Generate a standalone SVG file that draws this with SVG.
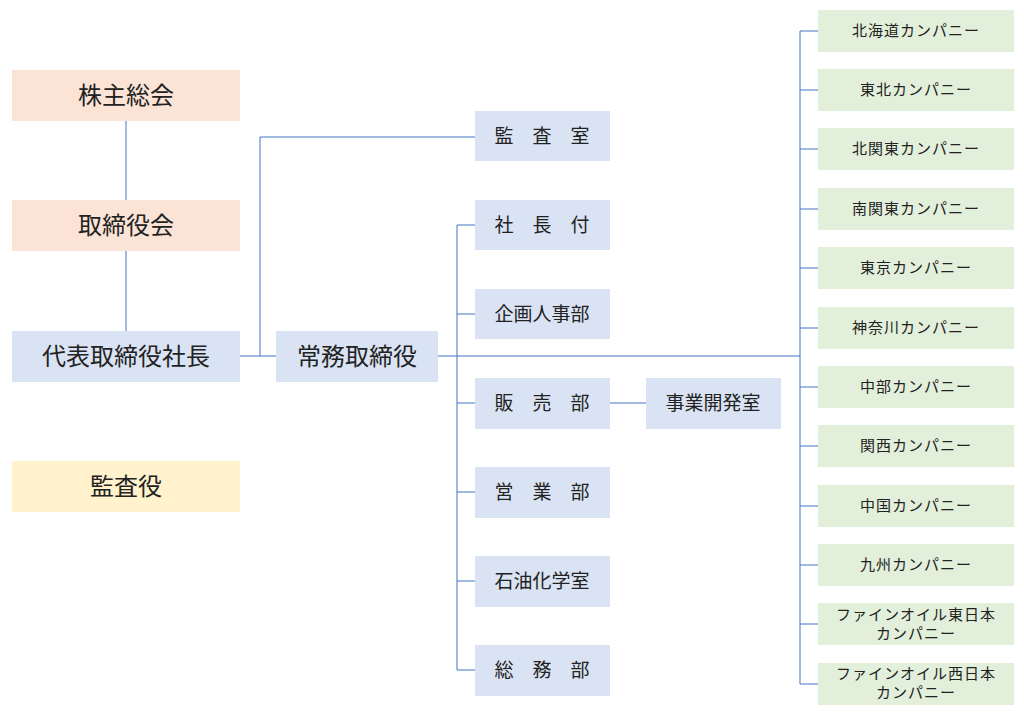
<svg xmlns="http://www.w3.org/2000/svg" width="1024" height="714" viewBox="0 0 1024 714">
<style>
text{font-family:"Noto Sans CJK JP","Noto Sans",sans-serif;text-anchor:middle;dominant-baseline:central;fill:#222;transform:translateY(-2px)}
.p{fill:#fbe4d6}.b{fill:#dae3f3}.y{fill:#fff2cc}.g{fill:#e2efda}
.l{font-size:24px}.m{font-size:19px}.r{font-size:15px;letter-spacing:1px}
.c{stroke:#4472c4;stroke-width:1;fill:none}
</style>
<rect width="1024" height="714" fill="#fff"/>
<g id="connectors">
<path class="c" d="M126 121V200M126 251V331M240 356H276M260 356V137H475M457 225V670M457 225H475M457 314H475M457 403H475M457 492H475M457 581H475M457 670H475M610 403H646"/>
<path class="c" d="M438 356H800" stroke-width="2" stroke="#2f5fb7"/>
<path class="c" d="M800 31V684M800 31H818M800 90H818M800 149H818M800 209H818M800 268H818M800 328H818M800 387H818M800 446H818M800 506H818M800 565H818M800 624H818M800 684H818"/>
</g>
<g id="n1"><rect class="p" x="12" y="70" width="228" height="51"/><text class="l" x="126" y="95">株主総会</text></g>
<g id="n2"><rect class="p" x="12" y="200" width="228" height="51"/><text class="l" x="126" y="225">取締役会</text></g>
<g id="n3"><rect class="b" x="12" y="331" width="228" height="51"/><text class="l" x="126" y="356">代表取締役社長</text></g>
<g id="n4"><rect class="y" x="12" y="461" width="228" height="51"/><text class="l" x="126" y="486">監査役</text></g>
<g id="n5"><rect class="b" x="276" y="331" width="162" height="51"/><text class="l" x="357" y="356">常務取締役</text></g>
<g id="m1"><rect class="b" x="475" y="111" width="135" height="50"/><text class="m" x="542" y="136">監　査　室</text></g>
<g id="m2"><rect class="b" x="475" y="200" width="135" height="50"/><text class="m" x="542" y="225">社　長　付</text></g>
<g id="m3"><rect class="b" x="475" y="289" width="135" height="50"/><text class="m" x="542" y="314">企画人事部</text></g>
<g id="m4"><rect class="b" x="475" y="378" width="135" height="51"/><text class="m" x="542" y="403">販　売　部</text></g>
<g id="m5"><rect class="b" x="475" y="467" width="135" height="51"/><text class="m" x="542" y="492">営　業　部</text></g>
<g id="m6"><rect class="b" x="475" y="556" width="135" height="51"/><text class="m" x="542" y="581">石油化学室</text></g>
<g id="m7"><rect class="b" x="475" y="645" width="135" height="51"/><text class="m" x="542" y="670">総　務　部</text></g>
<g id="m8"><rect class="b" x="646" y="378" width="135" height="51"/><text class="m" x="713" y="403">事業開発室</text></g>
<g id="r1"><rect class="g" x="818" y="10" width="196" height="42"/><text class="r" x="916" y="31">北海道カンパニー</text></g>
<g id="r2"><rect class="g" x="818" y="69" width="196" height="42"/><text class="r" x="916" y="90">東北カンパニー</text></g>
<g id="r3"><rect class="g" x="818" y="128" width="196" height="42"/><text class="r" x="916" y="149">北関東カンパニー</text></g>
<g id="r4"><rect class="g" x="818" y="188" width="196" height="42"/><text class="r" x="916" y="209">南関東カンパニー</text></g>
<g id="r5"><rect class="g" x="818" y="247" width="196" height="42"/><text class="r" x="916" y="268">東京カンパニー</text></g>
<g id="r6"><rect class="g" x="818" y="307" width="196" height="42"/><text class="r" x="916" y="328">神奈川カンパニー</text></g>
<g id="r7"><rect class="g" x="818" y="366" width="196" height="42"/><text class="r" x="916" y="387">中部カンパニー</text></g>
<g id="r8"><rect class="g" x="818" y="425" width="196" height="42"/><text class="r" x="916" y="446">関西カンパニー</text></g>
<g id="r9"><rect class="g" x="818" y="485" width="196" height="42"/><text class="r" x="916" y="506">中国カンパニー</text></g>
<g id="r10"><rect class="g" x="818" y="544" width="196" height="42"/><text class="r" x="916" y="565">九州カンパニー</text></g>
<g id="r11"><rect class="g" x="818" y="603" width="196" height="42"/><text class="r" x="916" y="615">ファインオイル東日本</text><text class="r" x="916" y="634">カンパニー</text></g>
<g id="r12"><rect class="g" x="818" y="663" width="196" height="42"/><text class="r" x="916" y="674">ファインオイル西日本</text><text class="r" x="916" y="693">カンパニー</text></g>
</svg>
